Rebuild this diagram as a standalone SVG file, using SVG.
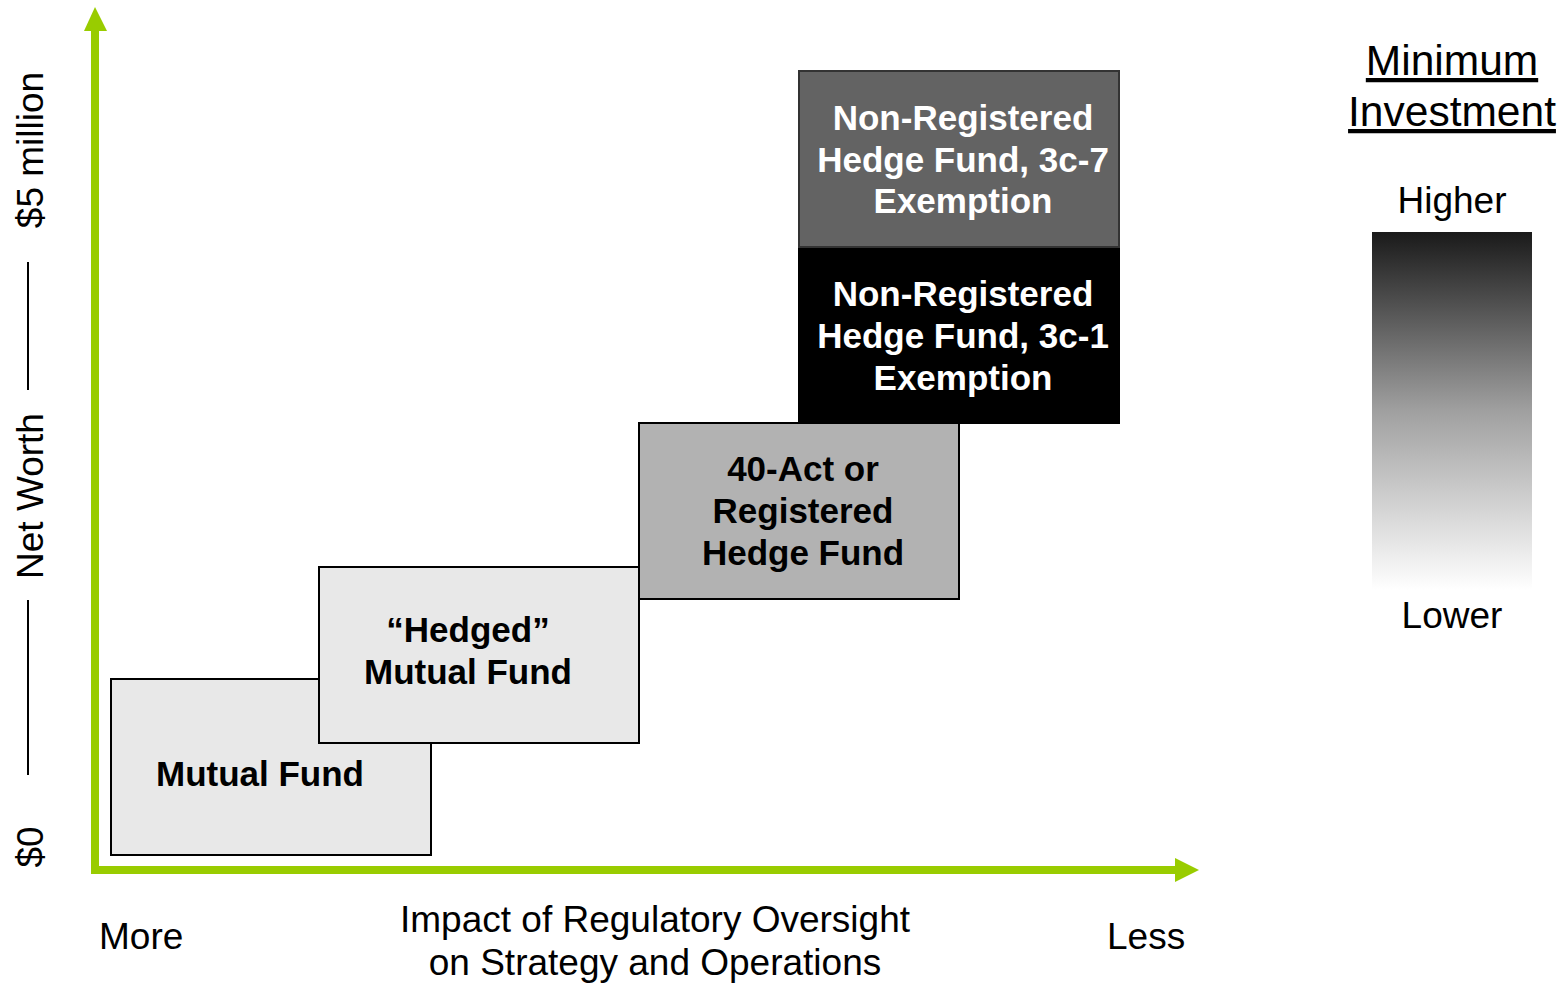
<svg xmlns="http://www.w3.org/2000/svg" width="1563" height="983" viewBox="0 0 1563 983">
<style>
.t{font-family:"Liberation Sans",Arial,sans-serif;font-size:37px;fill:#000}
.h{font-size:42.5px;text-decoration:underline}
.b{font-family:"Liberation Sans",Arial,sans-serif;font-size:35px;font-weight:bold;text-anchor:middle}
.box{stroke:#000;stroke-width:2}
.ax{fill:none;stroke:#99CC00;stroke-width:8}
</style>
<defs>
<linearGradient id="g" x1="0" y1="0" x2="0" y2="1">
<stop offset="0" stop-color="#1a1a1a"/>
<stop offset="0.5" stop-color="#a0a0a0"/>
<stop offset="1" stop-color="#ffffff"/>
</linearGradient>
</defs>
<rect width="1563" height="983" fill="#fff"/>
<g id="connectors">
<path class="ax" d="M95 874 V28"/>
<polygon points="95,7 84,31 107,31" fill="#99CC00"/>
<path class="ax" d="M91 870 H1178"/>
<polygon points="1199,870 1175,858 1175,882" fill="#99CC00"/>
</g>
<g id="yaxis-label">
<text class="t" transform="translate(43,150) rotate(-90)" text-anchor="middle">$5 million</text>
<text class="t" transform="translate(43,496) rotate(-90)" text-anchor="middle">Net Worth</text>
<text class="t" transform="translate(43,847) rotate(-90)" text-anchor="middle">$0</text>
<line x1="28" y1="262" x2="28" y2="390" stroke="#000" stroke-width="2"/>
<line x1="28" y1="600" x2="28" y2="775" stroke="#000" stroke-width="2"/>
</g>
<g id="mutual-fund">
<rect class="box" x="111" y="679" width="320" height="176" fill="#E8E8E8"/>
<text class="b" x="260" y="786">Mutual Fund</text>
</g>
<g id="hedged-mutual-fund">
<rect class="box" x="319" y="567" width="320" height="176" fill="#E8E8E8"/>
<text class="b" x="468" y="642">“Hedged”</text>
<text class="b" x="468" y="684">Mutual Fund</text>
</g>
<g id="registered-hedge-fund">
<rect class="box" x="639" y="423" width="320" height="176" fill="#B2B2B2"/>
<text class="b" x="803" y="481">40-Act or</text>
<text class="b" x="803" y="523">Registered</text>
<text class="b" x="803" y="565">Hedge Fund</text>
</g>
<g id="hedge-3c1">
<rect class="box" x="799" y="247" width="320" height="176" fill="#000"/>
<text class="b" x="963" y="306" fill="#fff">Non-Registered</text>
<text class="b" x="963" y="348" fill="#fff">Hedge Fund, 3c-1</text>
<text class="b" x="963" y="390" fill="#fff">Exemption</text>
</g>
<g id="hedge-3c7">
<rect x="799" y="71" width="320" height="176" fill="#636363" stroke="#333" stroke-width="2"/>
<text class="b" x="963" y="130" fill="#fff">Non-Registered</text>
<text class="b" x="963" y="172" fill="#fff">Hedge Fund, 3c-7</text>
<text class="b" x="963" y="213" fill="#fff">Exemption</text>
</g>
<g id="legend">
<text class="t h" x="1452" y="75" text-anchor="middle">Minimum</text>
<text class="t h" x="1452" y="126" text-anchor="middle">Investment</text>
<text class="t" x="1452" y="213" text-anchor="middle">Higher</text>
<rect x="1372" y="232" width="160" height="358" fill="url(#g)"/>
<text class="t" x="1452" y="628" text-anchor="middle">Lower</text>
</g>
<g id="xaxis-label">
<text class="t" x="99" y="949">More</text>
<text class="t" x="655" y="932" text-anchor="middle">Impact of Regulatory Oversight</text>
<text class="t" x="655" y="975" text-anchor="middle">on Strategy and Operations</text>
<text class="t" x="1107" y="949">Less</text>
</g>
</svg>
